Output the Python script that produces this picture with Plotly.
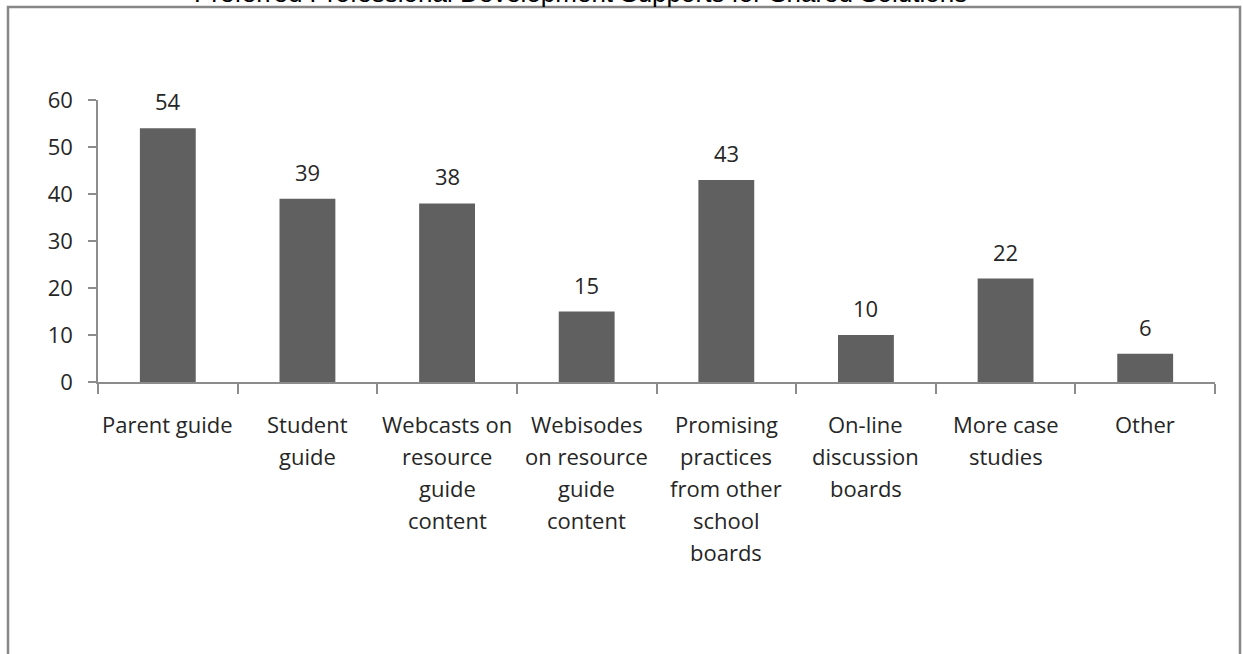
import plotly.graph_objects as go

title = "Preferred Professional Development Supports for Shared Solutions"
categories = ["Parent guide", "Student guide", "Webcasts on resource guide content",
              "Webisodes on resource guide content", "Promising practices from other school boards",
              "On-line discussion boards", "More case studies", "Other"]
label_lines = [["Parent guide"], ["Student", "guide"], ["Webcasts on", "resource", "guide", "content"],
               ["Webisodes", "on resource", "guide", "content"],
               ["Promising", "practices", "from other", "school", "boards"],
               ["On-line", "discussion", "boards"], ["More case", "studies"], ["Other"]]
values = [54, 39, 38, 15, 43, 10, 22, 6]
y_ticks = [0, 10, 20, 30, 40, 50, 60]

W, H = 1243, 654
L, R, T, B = 98, 28, 100, 272
pw, ph = W - L - R, H - T - B

def px_x(p):
    return (p - L) / pw

def px_y(p):
    return (H - B - p) / ph

FONT = "Open Sans"
FS = 22
TXT = "#262626"
AX = "#8c8c8c"

fig = go.Figure(go.Bar(
    x=categories, y=values, marker_color="#606060", marker_line_width=0,
    hoverinfo="x+y", cliponaxis=False,
))

annotations = []
for cat, v in zip(categories, values):
    annotations.append(dict(x=cat, xref="x", y=v, yref="y", yanchor="bottom", yshift=10,
                            text=str(v), showarrow=False,
                            font=dict(family=FONT, size=FS, color=TXT)))
for cat, lines in zip(categories, label_lines):
    for j, line in enumerate(lines):
        annotations.append(dict(x=cat, xref="x", y=0, yref="paper", yanchor="top",
                                yshift=-25 - 32 * j, text=line, showarrow=False,
                                font=dict(family=FONT, size=FS, color=TXT)))
annotations.append(dict(x=px_x(580), xref="paper", y=px_y(10), yref="paper", yanchor="bottom",
                        text=title, showarrow=False,
                        font=dict(family="Liberation Sans", size=26, color="#000000")))

fig.update_layout(
    width=W, height=H, margin=dict(l=L, r=R, t=T, b=B),
    paper_bgcolor="white", plot_bgcolor="white", showlegend=False,
    bargap=0.6, annotations=annotations,
    shapes=[dict(type="rect", xref="paper", yref="paper",
                 x0=px_x(8), x1=px_x(1240), y0=px_y(720), y1=px_y(7),
                 line=dict(color="#878787", width=2.5), layer="below")],
)
fig.update_xaxes(showline=True, linecolor=AX, linewidth=1.5, ticks="outside", tickson="boundaries",
                 ticklen=10, tickcolor=AX, tickwidth=1.5, showticklabels=False, showgrid=False,
                 range=[-0.5, 7.5])
fig.update_yaxes(showline=True, linecolor=AX, linewidth=1.5, ticks="outside", ticklen=8, tickcolor=AX,
                 tickwidth=1.5, range=[0, 60], tickvals=y_ticks, showgrid=False, zeroline=False,
                 ticklabelstandoff=11,
                 tickfont=dict(family=FONT, size=FS, color=TXT))

fig.write_html("out.html", config={"displayModeBar": False},
               post_script="document.body.style.margin='0';document.body.style.overflow='hidden';")
